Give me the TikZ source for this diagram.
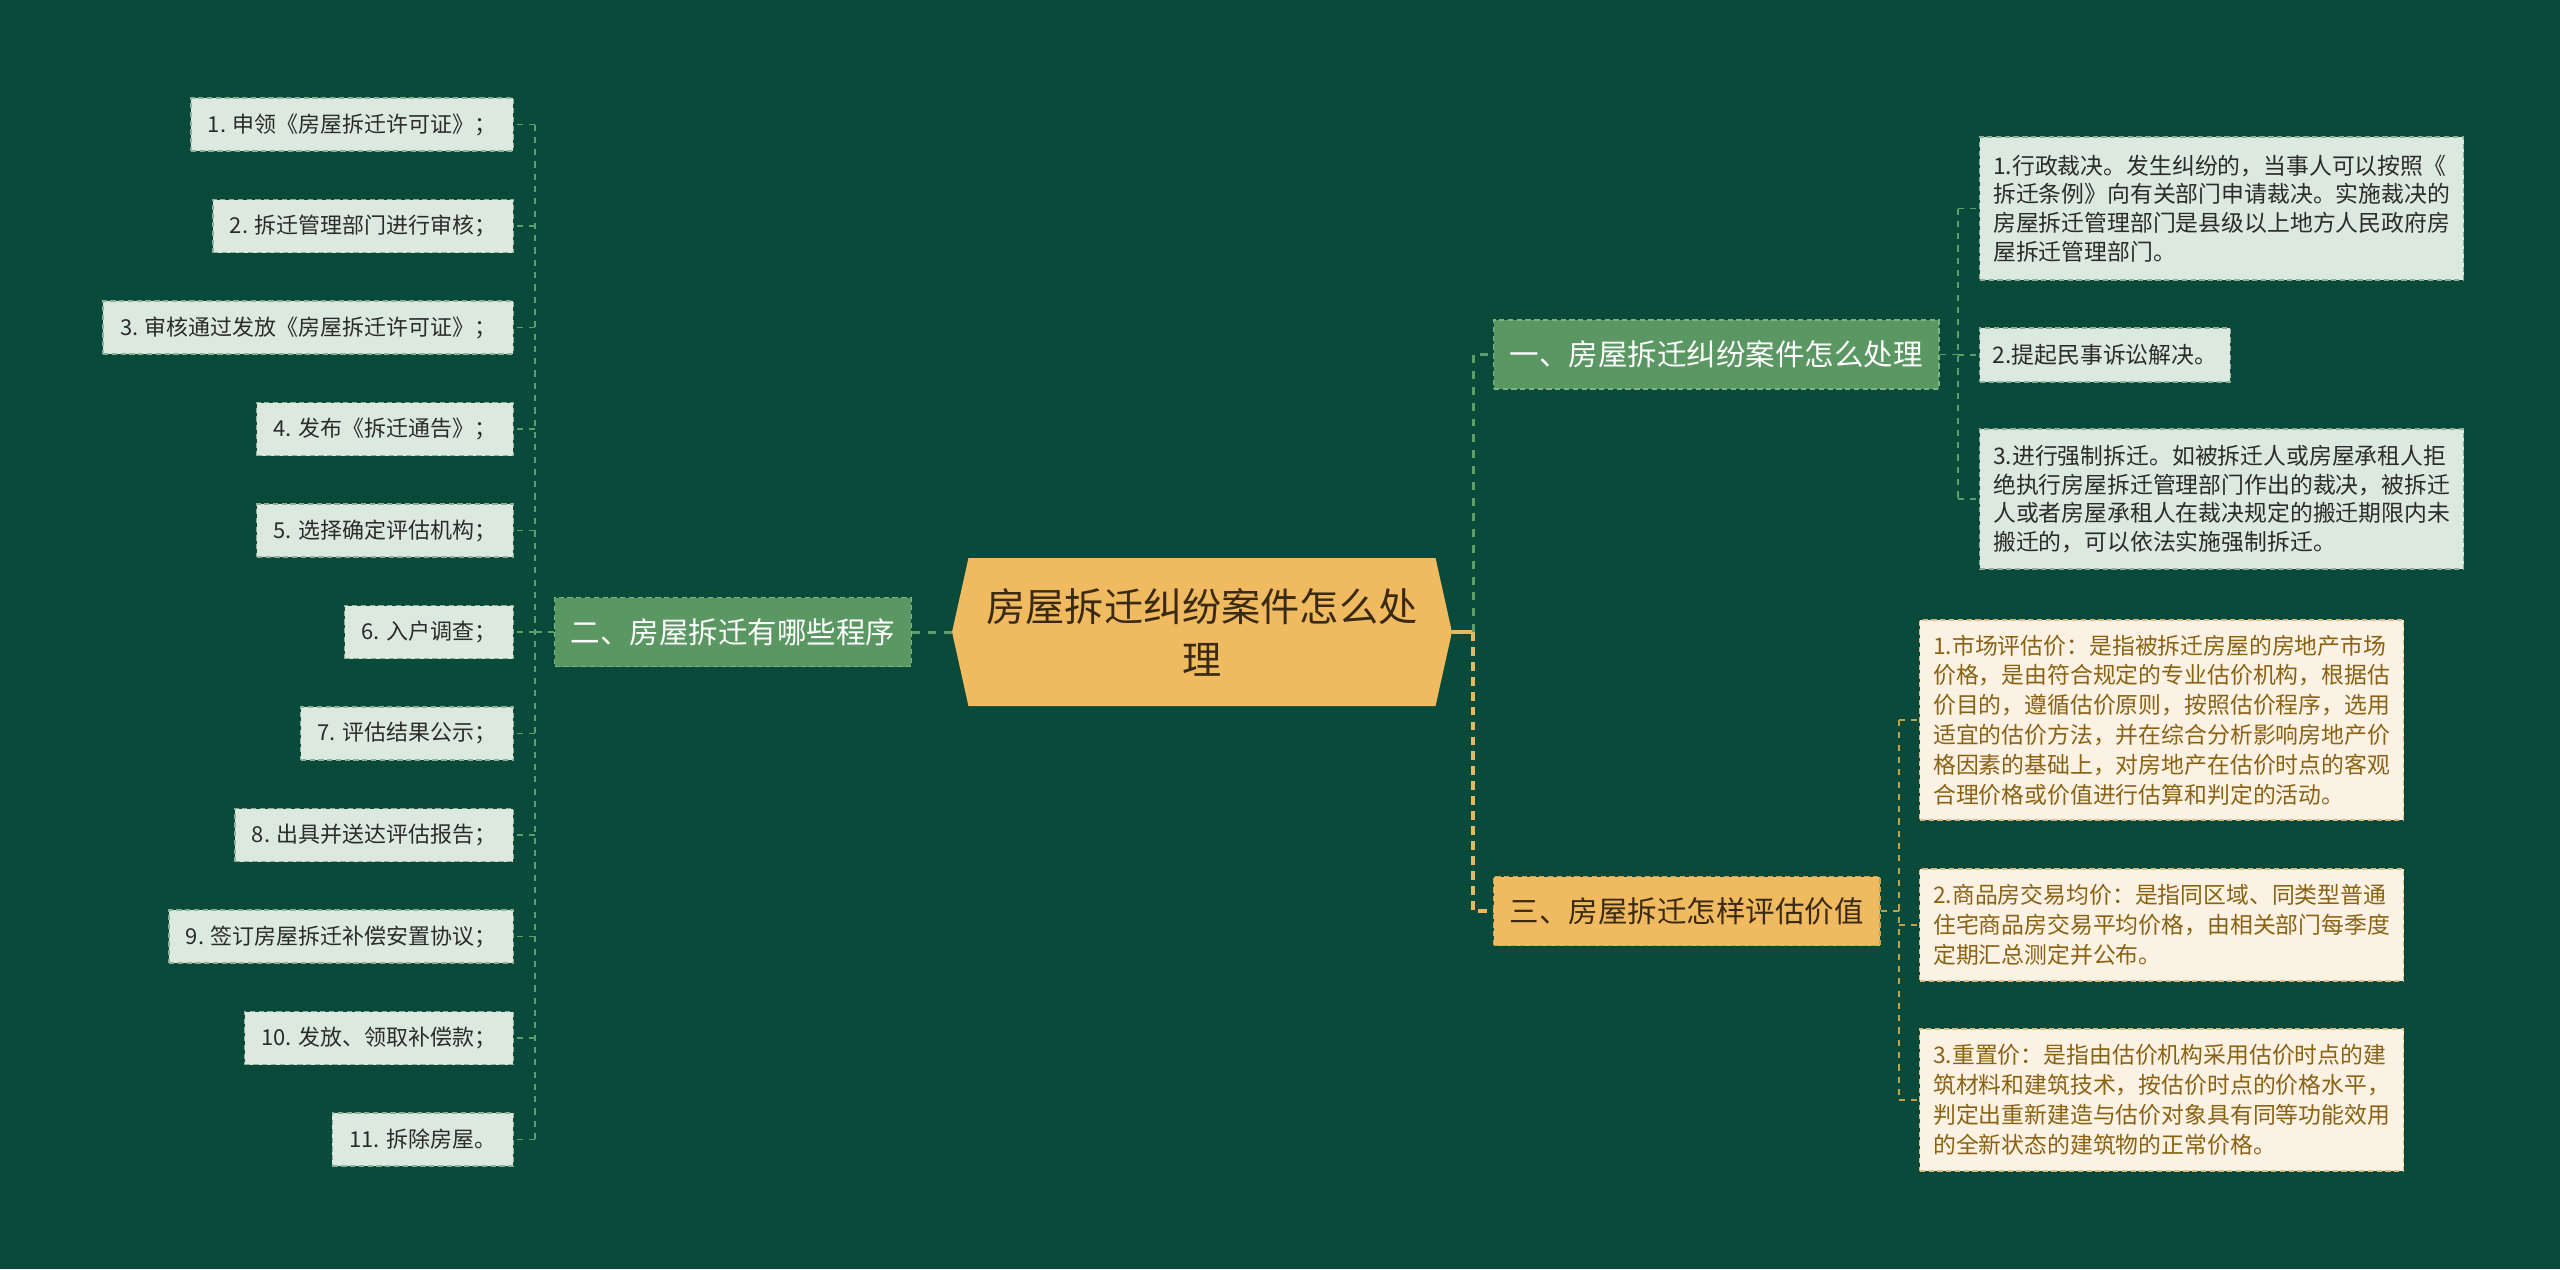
\documentclass[tikz,border=0pt]{standalone}
\usepackage{fontspec}
\setmainfont{Noto Sans CJK SC}
\usetikzlibrary{positioning,shapes.symbols,backgrounds}
\definecolor{mapbg}{HTML}{0A4A3A}
\definecolor{rootorange}{HTML}{F0BA60}
\definecolor{rootink}{HTML}{3A2A12}
\definecolor{branchgreen}{HTML}{5A9762}
\definecolor{branchedge}{HTML}{7DB486}
\definecolor{leafgray}{HTML}{DCE9DF}
\definecolor{leafedge}{HTML}{8FAF98}
\definecolor{leafink}{HTML}{2B2B2B}
\definecolor{creamfill}{HTML}{FCF2E3}
\definecolor{creamedge}{HTML}{D9BD84}
\definecolor{creamink}{HTML}{8A6214}
\definecolor{orangeedge}{HTML}{D3A04C}
\definecolor{linkgreen}{HTML}{5E9E69}
\definecolor{linkyellow}{HTML}{E6B960}
\definecolor{linkolive}{HTML}{BFA346}
\tikzset{
  rootnode/.style={shape=signal,signal to=east and west,signal pointer angle=155,
    fill=rootorange,text=rootink,minimum width=10cm,minimum height=2.96cm,
    align=center,font=\fontsize{22.3}{30}\selectfont},
  branchbox/.style={draw=branchedge,fill=branchgreen,text=white,line width=0.8pt,
    dash pattern=on 3pt off 2pt,inner xsep=0.32cm,minimum height=1.38cm,
    font=\fontsize{16.8}{20}\selectfont},
  orangebox/.style={branchbox,draw=orangeedge,fill=rootorange,text=rootink},
  stepleaf/.style={draw=leafedge,fill=leafgray,text=leafink,line width=0.8pt,
    dash pattern=on 3pt off 2pt,inner xsep=0.34cm,minimum height=1.06cm,
    font=\fontsize{12.5}{15}\selectfont},
  noteleaf/.style={stepleaf,align=left,inner xsep=0.26cm,
    font=\fontsize{13}{16.3}\selectfont},
  creamleaf/.style={noteleaf,draw=creamedge,fill=creamfill,text=creamink,
    minimum width=9.68cm,font=\fontsize{13}{17}\selectfont},
  thicklink/.style={linkgreen,line width=1.7pt,dash pattern=on 4.5pt off 4.5pt},
  yellowlink/.style={linkyellow,line width=2.2pt,dash pattern=on 5pt off 3.5pt},
  thinlink/.style={linkgreen,line width=1pt,dash pattern=on 3.5pt off 3.5pt},
  olivelink/.style={thinlink,linkolive}
}

\begin{document}
\begin{tikzpicture}[x=0.02cm,y=-0.02cm]
  \fill[mapbg] (0,0) rectangle (2560,1269);
  \useasboundingbox (0,0) rectangle (2560,1269);

  \node[rootnode] (root) at (1202,632) {房屋拆迁纠纷案件怎么处\\理};

  \node[branchbox,anchor=west] (b1) at (1493,354.5) {一、房屋拆迁纠纷案件怎么处理};
  \node[branchbox,anchor=east] (b2) at (912,632) {二、房屋拆迁有哪些程序};
  \node[orangebox,anchor=west] (b3) at (1493,911) {三、房屋拆迁怎样评估价值};

  \foreach \i/\t in {1/{1. 申领《房屋拆迁许可证》；},2/{2. 拆迁管理部门进行审核；},
    3/{3. 审核通过发放《房屋拆迁许可证》；},4/{4. 发布《拆迁通告》；},
    5/{5. 选择确定评估机构；},6/{6. 入户调查；},7/{7. 评估结果公示；},
    8/{8. 出具并送达评估报告；},9/{9. 签订房屋拆迁补偿安置协议；},
    10/{10. 发放、领取补偿款；},11/{11. 拆除房屋。}}{
    \node[stepleaf,anchor=east] (s\i) at (514,{124.5+101.5*(\i-1)}) {\t};
  }

  \node[noteleaf,anchor=west,minimum width=9.68cm,minimum height=2.86cm] (a1) at (1979,208.5)
    {1.行政裁决。发生纠纷的，当事人可以按照《\\拆迁条例》向有关部门申请裁决。实施裁决的\\房屋拆迁管理部门是县级以上地方人民政府房\\屋拆迁管理部门。};
  \node[noteleaf,anchor=west,minimum height=1.08cm] (a2) at (1979,355) {2.提起民事诉讼解决。};
  \node[noteleaf,anchor=west,minimum width=9.68cm,minimum height=2.8cm] (a3) at (1979,499)
    {3.进行强制拆迁。如被拆迁人或房屋承租人拒\\绝执行房屋拆迁管理部门作出的裁决，被拆迁\\人或者房屋承租人在裁决规定的搬迁期限内未\\搬迁的，可以依法实施强制拆迁。};

  \node[creamleaf,anchor=west,minimum height=4cm] (c1) at (1919,720)
    {1.市场评估价：是指被拆迁房屋的房地产市场\\价格，是由符合规定的专业估价机构，根据估\\价目的，遵循估价原则，按照估价程序，选用\\适宜的估价方法，并在综合分析影响房地产价\\格因素的基础上，对房地产在估价时点的客观\\合理价格或价值进行估算和判定的活动。};
  \node[creamleaf,anchor=west,minimum height=2.24cm] (c2) at (1919,925)
    {2.商品房交易均价：是指同区域、同类型普通\\住宅商品房交易平均价格，由相关部门每季度\\定期汇总测定并公布。};
  \node[creamleaf,anchor=west,minimum height=2.84cm] (c3) at (1919,1100)
    {3.重置价：是指由估价机构采用估价时点的建\\筑材料和建筑技术，按估价时点的价格水平，\\判定出重新建造与估价对象具有同等功能效用\\的全新状态的建筑物的正常价格。};

  \coordinate (jl) at (535,632);
  \coordinate (jr) at (1473,632);
  \coordinate (ja) at (1958,354.5);
  \coordinate (jc) at (1899,911);

  \draw[thicklink] (root.west) -- (b2.east);
  \draw[thinlink] (b2.west) -- (jl);
  \draw[thinlink] (jl |- s1.east) -- (jl |- s11.east);
  \foreach \i in {1,...,11}
    \draw[thinlink] (jl |- s\i.east) -- (s\i.east);

  \draw[linkyellow,line width=2.2pt] (root.east) -- (jr);
  \draw[thicklink] (jr) |- (b1.west);
  \draw[yellowlink] (jr) |- (b3.west);

  \draw[thinlink] (b1.east) -- (ja);
  \draw[thinlink] (ja |- a1.west) -- (ja |- a3.west);
  \foreach \n in {a1,a2,a3}
    \draw[thinlink] (ja |- \n.west) -- (\n.west);

  \draw[olivelink] (b3.east) -- (jc);
  \draw[olivelink] (jc |- c1.west) -- (jc |- c3.west);
  \foreach \n in {c1,c2,c3}
    \draw[olivelink] (jc |- \n.west) -- (\n.west);
\end{tikzpicture}
\end{document}
